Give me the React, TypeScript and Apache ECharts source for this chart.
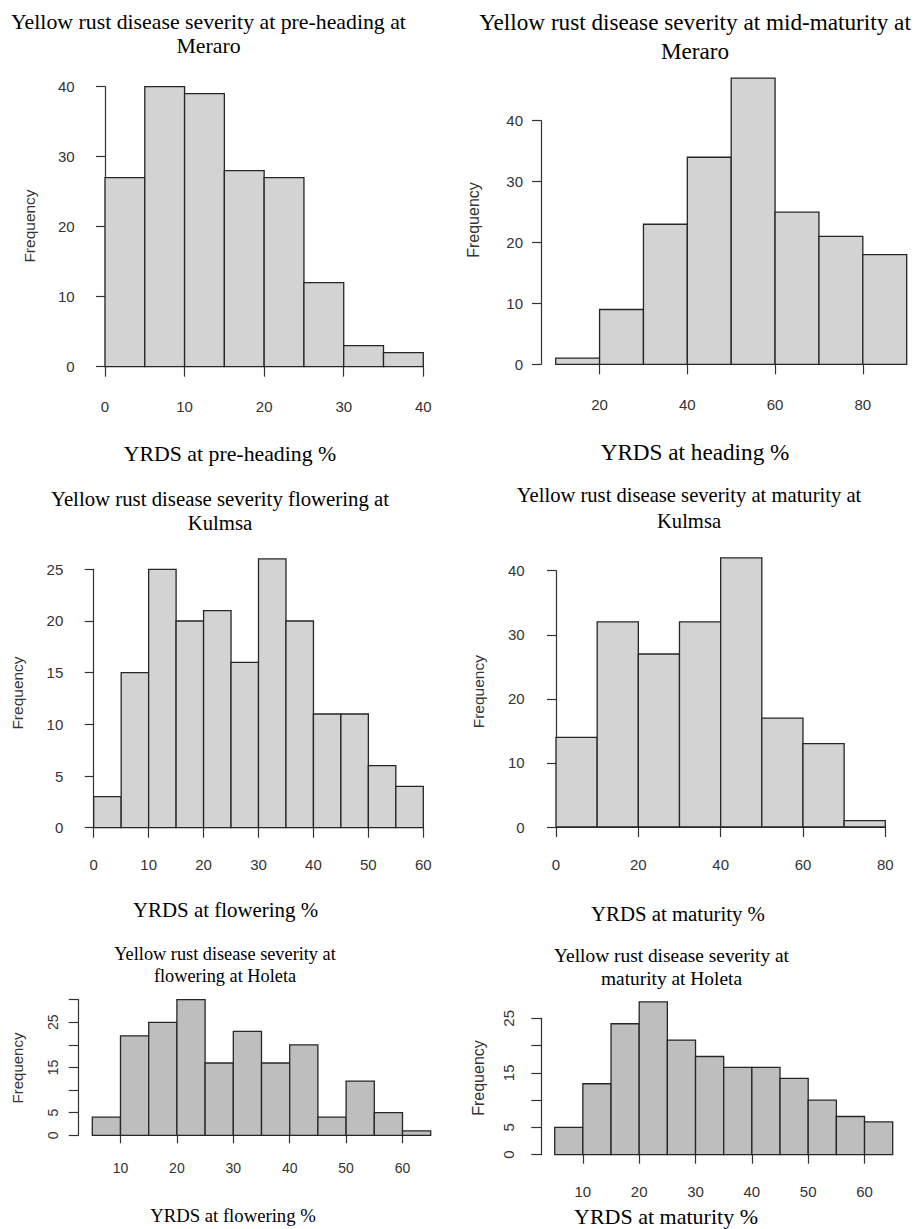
import React, { useEffect, useRef } from "react";
import * as echarts from "echarts";

// ---------- Data ----------
// Panel 1: pre-heading at Meraro
const preHeadingMeraroBins = [0, 5, 10, 15, 20, 25, 30, 35, 40];
const preHeadingMeraroCounts = [27, 40, 39, 28, 27, 12, 3, 2];
const preHeadingMeraroXTicks = [0, 10, 20, 30, 40];
const preHeadingMeraroYTicks = [0, 10, 20, 30, 40];

// Panel 2: mid-maturity at Meraro
const midMaturityMeraroBins = [10, 20, 30, 40, 50, 60, 70, 80, 90];
const midMaturityMeraroCounts = [1, 9, 23, 34, 47, 25, 21, 18];
const midMaturityMeraroXTicks = [20, 40, 60, 80];
const midMaturityMeraroYTicks = [0, 10, 20, 30, 40];

// Panel 3: flowering at Kulmsa
const floweringKulmsaBins = [0, 5, 10, 15, 20, 25, 30, 35, 40, 45, 50, 55, 60];
const floweringKulmsaCounts = [3, 15, 25, 20, 21, 16, 26, 20, 11, 11, 6, 4];
const floweringKulmsaXTicks = [0, 10, 20, 30, 40, 50, 60];
const floweringKulmsaYTicks = [0, 5, 10, 15, 20, 25];

// Panel 4: maturity at Kulmsa
const maturityKulmsaBins = [0, 10, 20, 30, 40, 50, 60, 70, 80];
const maturityKulmsaCounts = [14, 32, 27, 32, 42, 17, 13, 1];
const maturityKulmsaXTicks = [0, 20, 40, 60, 80];
const maturityKulmsaYTicks = [0, 10, 20, 30, 40];

// Panel 5: flowering at Holeta
const floweringHoletaBins = [5, 10, 15, 20, 25, 30, 35, 40, 45, 50, 55, 60, 65];
const floweringHoletaCounts = [4, 22, 25, 30, 16, 23, 16, 20, 4, 12, 5, 1];
const floweringHoletaXTicks = [10, 20, 30, 40, 50, 60];
const floweringHoletaYTicks = [0, 5, 10, 15, 20, 25, 30];
const floweringHoletaYLabels = [0, 5, 15, 25];

// Panel 6: maturity at Holeta
const maturityHoletaBins = [5, 10, 15, 20, 25, 30, 35, 40, 45, 50, 55, 60, 65];
const maturityHoletaCounts = [5, 13, 24, 28, 21, 18, 16, 16, 14, 10, 7, 6];
const maturityHoletaXTicks = [10, 20, 30, 40, 50, 60];
const maturityHoletaYTicks = [0, 5, 10, 15, 20, 25];
const maturityHoletaYLabels = [0, 5, 15, 25];

const titleTexts = [
  ["Yellow rust disease severity at pre-heading at", "Meraro"],
  ["Yellow rust disease severity at mid-maturity at", "Meraro"],
  ["Yellow rust disease severity flowering at", "Kulmsa"],
  ["Yellow rust disease severity at maturity at", "Kulmsa"],
  ["Yellow rust disease severity at", "flowering at Holeta"],
  ["Yellow rust disease severity at", "maturity at Holeta"],
];
const xAxisTitles = [
  "YRDS at pre-heading %",
  "YRDS at heading %",
  "YRDS at flowering %",
  "YRDS at maturity %",
  "YRDS at flowering %",
  "YRDS at maturity %",
];
const yAxisTitle = "Frequency";

// ---------- Layout (pixels) ----------
type Layout = {
  x0: number; x1: number; // pixel of first / last bin edge
  y0: number; yTop: number; // pixel of 0 and of top y tick
  yAxisX: number; xAxisY: number;
  fill: string;
  tickFont: number;
  xMargin: number; yMargin: number;
  yRotate: number;
  xTickLen: number; yTickLen: number;
  freq: [number, number, number];
  title: [number, number, number, number]; // cx, y1, y2, size
  xlab: [number, number, number]; // cx, y, size
};

const layouts: Layout[] = [
  { x0: 105, x1: 423.3, y0: 366.7, yTop: 86.7, yAxisX: 91.7, xAxisY: 378.3, fill: "#d3d3d3", tickFont: 15, xMargin: 21, yMargin: 17, yRotate: 0, xTickLen: 10, yTickLen: 9, freq: [29.5, 226, 15.5], title: [208.5, 21.7, 45.7, 21.8], xlab: [230, 453.8, 21.8] },
  { x0: 555.7, x1: 906.7, y0: 364.3, yTop: 120.7, yAxisX: 541, xAxisY: 376, fill: "#d3d3d3", tickFont: 15, xMargin: 21, yMargin: 18, yRotate: 0, xTickLen: 10, yTickLen: 9, freq: [473.5, 220, 16], title: [695, 22, 51, 23.2], xlab: [695, 452, 23.2] },
  { x0: 93.7, x1: 423.3, y0: 827.7, yTop: 569.3, yAxisX: 80.3, xAxisY: 839.3, fill: "#d3d3d3", tickFont: 15, xMargin: 18, yMargin: 17, yRotate: 0, xTickLen: 10, yTickLen: 9, freq: [17.5, 693, 15.5], title: [220, 498, 522, 20.8], xlab: [225.5, 910, 20.9] },
  { x0: 556, x1: 885.3, y0: 827, yTop: 570.7, yAxisX: 542.7, xAxisY: 838.3, fill: "#d3d3d3", tickFont: 15, xMargin: 19, yMargin: 18, yRotate: 0, xTickLen: 10, yTickLen: 9, freq: [478.7, 691.7, 15.5], title: [689, 495, 521, 20.6], xlab: [678, 913, 20.8] },
  { x0: 92.3, x1: 430.7, y0: 1135.3, yTop: 999.7, yAxisX: 78.7, xAxisY: 1141.7, fill: "#bebebe", tickFont: 14, xMargin: 19, yMargin: 19, yRotate: 90, xTickLen: 8, yTickLen: 10, freq: [17.5, 1068, 15], title: [225, 954, 976, 18.3], xlab: [233, 1215, 18.7] },
  { x0: 554.7, x1: 892.7, y0: 1154.7, yTop: 1018.3, yAxisX: 541.3, xAxisY: 1161, fill: "#bebebe", tickFont: 15, xMargin: 23, yMargin: 25, yRotate: 90, xTickLen: 9, yTickLen: 10, freq: [478, 1078, 16], title: [671.5, 955, 978, 19.4], xlab: [666, 1216, 22] },
];

type Panel = { bins: number[]; counts: number[]; xTicks: number[]; yTicks: number[]; yLabels?: number[] };
const panels: Panel[] = [
  { bins: preHeadingMeraroBins, counts: preHeadingMeraroCounts, xTicks: preHeadingMeraroXTicks, yTicks: preHeadingMeraroYTicks },
  { bins: midMaturityMeraroBins, counts: midMaturityMeraroCounts, xTicks: midMaturityMeraroXTicks, yTicks: midMaturityMeraroYTicks },
  { bins: floweringKulmsaBins, counts: floweringKulmsaCounts, xTicks: floweringKulmsaXTicks, yTicks: floweringKulmsaYTicks },
  { bins: maturityKulmsaBins, counts: maturityKulmsaCounts, xTicks: maturityKulmsaXTicks, yTicks: maturityKulmsaYTicks },
  { bins: floweringHoletaBins, counts: floweringHoletaCounts, xTicks: floweringHoletaXTicks, yTicks: floweringHoletaYTicks, yLabels: floweringHoletaYLabels },
  { bins: maturityHoletaBins, counts: maturityHoletaCounts, xTicks: maturityHoletaXTicks, yTicks: maturityHoletaYTicks, yLabels: maturityHoletaYLabels },
];

const AXIS_COLOR = "#333";
const BAR_STROKE = "#262626";
const SANS = "'Liberation Sans', Arial, sans-serif";
const SERIF = "'Liberation Serif', 'Times New Roman', serif";

function buildOption() {
  const grid: any[] = [];
  const xAxis: any[] = [];
  const yAxis: any[] = [];
  const series: any[] = [];
  const graphic: any[] = [];

  panels.forEach((p, i) => {
    const L = layouts[i];
    const bMin = p.bins[0];
    const bMax = p.bins[p.bins.length - 1];
    const pxPerUnit = (L.x1 - L.x0) / (bMax - bMin);
    const xtMin = p.xTicks[0];
    const xtMax = p.xTicks[p.xTicks.length - 1];
    const xtStep = p.xTicks[1] - p.xTicks[0];
    const ytMax = p.yTicks[p.yTicks.length - 1];
    const ytStep = p.yTicks[1] - p.yTicks[0];
    const height = L.y0 - L.yTop;

    // grid A: bars + y axis
    grid.push({ left: L.x0, top: L.yTop, width: L.x1 - L.x0, height, containLabel: false, outerBoundsMode: "none" });
    // grid B: x axis spanning first..last tick
    const bLeft = L.x0 + (xtMin - bMin) * pxPerUnit;
    const bRight = L.x0 + (xtMax - bMin) * pxPerUnit;
    grid.push({ left: bLeft, top: L.yTop, width: bRight - bLeft, height, containLabel: false, outerBoundsMode: "none" });

    xAxis.push({ type: "value", gridIndex: 2 * i, min: bMin, max: bMax, show: false });
    xAxis.push({
      type: "value",
      gridIndex: 2 * i + 1,
      min: xtMin,
      max: xtMax,
      interval: xtStep,
      position: "bottom",
      offset: L.xAxisY - L.y0,
      axisLine: { show: true, lineStyle: { color: AXIS_COLOR, width: 1.2 } },
      axisTick: { show: true, length: L.xTickLen, lineStyle: { color: AXIS_COLOR, width: 1.2 } },
      axisLabel: { fontSize: L.tickFont, fontFamily: SANS, color: "#333", margin: L.xMargin, showMinLabel: true, showMaxLabel: true },
      splitLine: { show: false },
    });

    const labelSet = p.yLabels;
    yAxis.push({
      type: "value",
      gridIndex: 2 * i,
      min: 0,
      max: ytMax,
      interval: ytStep,
      position: "left",
      offset: L.x0 - L.yAxisX,
      axisLine: { show: true, lineStyle: { color: AXIS_COLOR, width: 1.2 } },
      axisTick: { show: true, length: L.yTickLen, lineStyle: { color: AXIS_COLOR, width: 1.2 } },
      axisLabel: {
        fontSize: L.tickFont,
        fontFamily: SANS,
        color: "#333",
        margin: L.yMargin,
        rotate: L.yRotate,
        showMinLabel: true,
        showMaxLabel: true,
        formatter: (v: number) => (labelSet ? (labelSet.indexOf(v) >= 0 ? String(v) : "") : String(v)),
      },
      splitLine: { show: false },
    });
    yAxis.push({ type: "value", gridIndex: 2 * i + 1, min: 0, max: 1, show: false });

    const fill = L.fill;
    series.push({
      type: "custom",
      xAxisIndex: 2 * i,
      yAxisIndex: 2 * i,
      clip: false,
      data: p.counts.map((c, k) => [p.bins[k], p.bins[k + 1], c]),
      encode: { x: [0, 1], y: 2 },
      renderItem: (params: any, api: any) => {
        const a = api.coord([api.value(0), api.value(2)]);
        const b = api.coord([api.value(1), 0]);
        return {
          type: "rect",
          shape: { x: a[0], y: a[1], width: b[0] - a[0], height: b[1] - a[1] },
          style: { fill, stroke: BAR_STROKE, lineWidth: 1.3 },
        };
      },
    });

    // Titles
    const [tcx, ty1, ty2, ts] = L.title;
    [ty1, ty2].forEach((ty, li) => {
      graphic.push({
        type: "text",
        x: tcx,
        y: ty,
        style: { text: titleTexts[i][li], fontFamily: SERIF, fontSize: ts, fill: "#000", textAlign: "center", textVerticalAlign: "middle" },
      });
    });
    // x axis title
    graphic.push({
      type: "text",
      x: L.xlab[0],
      y: L.xlab[1],
      style: { text: xAxisTitles[i], fontFamily: SERIF, fontSize: L.xlab[2], fill: "#000", textAlign: "center", textVerticalAlign: "middle" },
    });
    // Frequency
    graphic.push({
      type: "text",
      x: L.freq[0],
      y: L.freq[1],
      rotation: Math.PI / 2,
      style: { text: yAxisTitle, fontFamily: SANS, fontSize: L.freq[2], fill: "#333", textAlign: "center", textVerticalAlign: "middle" },
    });
  });

  return {
    animation: false,
    backgroundColor: "#ffffff",
    grid,
    xAxis,
    yAxis,
    series,
    graphic: { elements: graphic },
  };
}

export default function App() {
  const ref = useRef<HTMLDivElement>(null);
  useEffect(() => {
    document.body.style.margin = "0";
    const chart = echarts.init(ref.current as HTMLDivElement, undefined, { renderer: "svg", width: 917, height: 1229 });
    chart.setOption(buildOption() as any);
    return () => chart.dispose();
  }, []);
  return <div ref={ref} style={{ position: "absolute", left: 0, top: 0, width: 917, height: 1229, background: "#fff" }} />;
}
